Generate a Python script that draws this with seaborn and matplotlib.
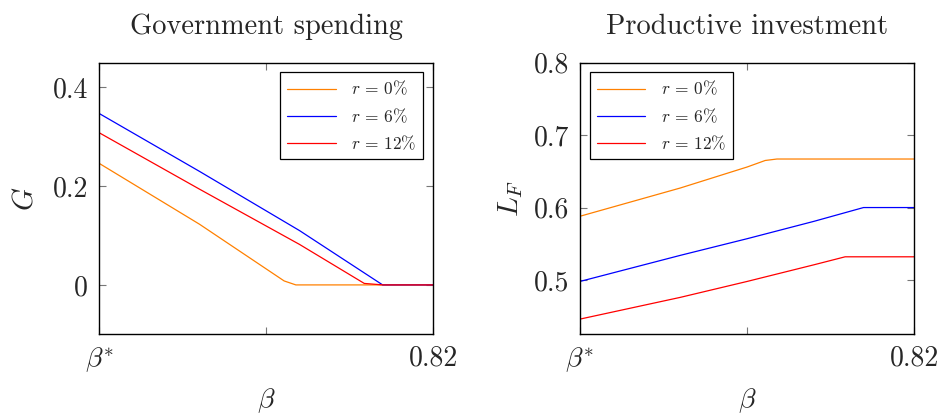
import numpy as np
import pandas as pd
import matplotlib
matplotlib.use("Agg")
import matplotlib.pyplot as plt
import seaborn as sns

# beta axis, normalised: 0 = beta*, 1 = 0.82
beta_star = 0.70
beta_max = 0.82

# government spending G
g_x_r0 = [0.0, 0.30, 0.554, 0.589, 1.0]
g_y_r0 = [0.246, 0.123, 0.008, 0.0, 0.0]
g_x_r6 = [0.0, 0.30, 0.60, 0.849, 1.0]
g_y_r6 = [0.347, 0.230, 0.110, 0.0, 0.0]
g_x_r12 = [0.0, 0.30, 0.60, 0.794, 0.85, 1.0]
g_y_r12 = [0.308, 0.194, 0.082, 0.003, 0.0, 0.0]

# productive investment L_F
l_x_r0 = [0.0, 0.30, 0.50, 0.554, 0.589, 1.0]
l_y_r0 = [0.588, 0.627, 0.656, 0.665, 0.667, 0.667]
l_x_r6 = [0.0, 0.30, 0.50, 0.70, 0.848, 1.0]
l_y_r6 = [0.498, 0.534, 0.557, 0.581, 0.600, 0.600]
l_x_r12 = [0.0, 0.30, 0.50, 0.70, 0.793, 1.0]
l_y_r12 = [0.446, 0.476, 0.498, 0.521, 0.532, 0.532]

labels = [r'$r\,=\,0\%$', r'$r\,=\,6\%$', r'$r\,=\,12\%$']
colors = ['#ff8000', '#0000ff', '#ff0000']

sns.set_style("ticks")
plt.rcParams['font.family'] = ['cmr10', 'DejaVu Serif']
plt.rcParams['mathtext.fontset'] = 'cm'
plt.rcParams['axes.formatter.use_mathtext'] = True


def to_beta(xs):
    return [beta_star + v * (beta_max - beta_star) for v in xs]


def make_df(xs_list, ys_list):
    rows = []
    for lab, xs, ys in zip(labels, xs_list, ys_list):
        for x, y in zip(to_beta(xs), ys):
            rows.append({'beta': x, 'val': y, 'r': lab})
    return pd.DataFrame(rows)


df_g = make_df([g_x_r0, g_x_r6, g_x_r12], [g_y_r0, g_y_r6, g_y_r12])
df_l = make_df([l_x_r0, l_x_r6, l_x_r12], [l_y_r0, l_y_r6, l_y_r12])

fig = plt.figure(figsize=(9.43, 4.16), dpi=100)
ax1 = fig.add_axes([0.1053, 0.1964, 0.3539, 0.6529])
ax2 = fig.add_axes([0.6151, 0.1964, 0.3545, 0.6529])

for ax, df in [(ax1, df_g), (ax2, df_l)]:
    sns.lineplot(data=df, x='beta', y='val', hue='r', palette=colors,
                 sort=False, estimator=None, linewidth=0.9, ax=ax)
    ax.set_xlim(beta_star, beta_max)
    ax.set_xticks([beta_star, (beta_star + beta_max) / 2, beta_max])
    ax.set_xticklabels([r'$\beta^{*}$', '', '0.82'], fontsize=20)
    ax.tick_params(direction='in', top=True, right=True, length=5,
                   width=0.8, color='#777777', pad=8)
    for s in ax.spines.values():
        s.set_linewidth(1.0)
        s.set_color('black')
    ax.set_xlabel(r'$\beta$', fontsize=20, labelpad=8)

ax1.set_ylim(-0.1, 0.45)
ax1.set_yticks([0, 0.2, 0.4])
ax1.set_yticklabels(['0', '0.2', '0.4'], fontsize=20)
ax1.set_ylabel(r'$G$', fontsize=21, labelpad=10)
ax1.set_title('Government spending', fontsize=20.5, pad=21)

ax2.set_ylim(0.425, 0.8)
ax2.set_yticks([0.5, 0.6, 0.7, 0.8])
ax2.set_yticklabels(['0.5', '0.6', '0.7', '0.8'], fontsize=20)
ax2.set_ylabel(r'$L_F$', fontsize=21, labelpad=6)
ax2.set_title('Productive investment', fontsize=20.5, pad=21)

for ax, loc in [(ax1, 'upper right'), (ax2, 'upper left')]:
    leg = ax.legend(loc=loc, fontsize=12.5, handlelength=2.8, frameon=True,
                    fancybox=False, edgecolor='black', framealpha=1,
                    borderaxespad=0.55, labelspacing=0.5, handletextpad=0.9,
                    title=None)
    leg.get_frame().set_linewidth(0.9)

fig.savefig('out.png', dpi=100)
